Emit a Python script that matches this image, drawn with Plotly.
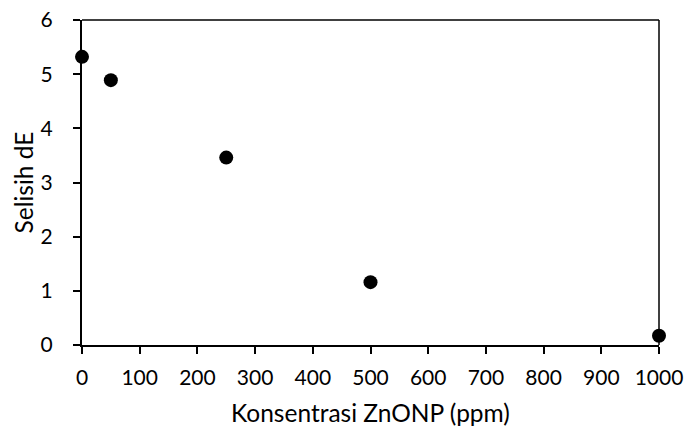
import plotly.graph_objects as go

konsentrasi = [0, 50, 250, 500, 1000]
selisih_dE = [5.32, 4.89, 3.46, 1.16, 0.17]
x_ticks = [0, 100, 200, 300, 400, 500, 600, 700, 800, 900, 1000]
y_ticks = [0, 1, 2, 3, 4, 5, 6]
x_title = "Konsentrasi ZnONP (ppm)"
y_title = "Selisih dE"

FONT = "Lato"
TICK_SIZE = 21
TITLE_SIZE = 24.5
W, H = 684, 428
ML, MR, MT, MB = 82, 25, 20, 83
PW, PH = W - ML - MR, H - MT - MB

fig = go.Figure()
fig.add_trace(go.Scatter(
    x=konsentrasi, y=selisih_dE, mode="markers",
    marker=dict(color="black", size=14),
    cliponaxis=False, showlegend=False,
))

axis_common = dict(
    showline=True, linecolor="black", linewidth=2,
    ticks="outside", ticklen=7, tickwidth=1.5, tickcolor="black",
    showgrid=False, zeroline=False, automargin=False,
    ticklabeloverflow="allow",
    tickfont=dict(family=FONT, size=TICK_SIZE, color="black"),
)
fig.update_xaxes(range=[0, 1000], tickvals=x_ticks, ticklabelstandoff=6, **axis_common)
fig.update_yaxes(range=[0, 6], tickvals=y_ticks, ticklabelstandoff=16, **axis_common)

# axis titles as annotations for exact placement
fig.add_annotation(text=x_title, xref="paper", yref="paper",
                   x=0.5, y=-(412 - (MT + PH)) / PH, xanchor="center", yanchor="middle",
                   showarrow=False, font=dict(family=FONT, size=TITLE_SIZE, color="black"))
fig.add_annotation(text=y_title, xref="paper", yref="paper", textangle=-90,
                   x=(23 - ML) / PW, y=0.5, xanchor="center", yanchor="middle",
                   showarrow=False, font=dict(family=FONT, size=TITLE_SIZE, color="black"))

# top and right border
fig.add_shape(type="line", xref="paper", yref="paper", x0=0, x1=1, y0=1, y1=1,
              line=dict(color="black", width=1.5))
fig.add_shape(type="line", xref="paper", yref="paper", x0=1, x1=1, y0=0, y1=1,
              line=dict(color="black", width=1.5))

fig.update_layout(
    width=W, height=H,
    margin=dict(l=ML, r=MR, t=MT, b=MB, autoexpand=False),
    paper_bgcolor="white", plot_bgcolor="white",
    font=dict(family=FONT, color="black"),
)
fig.write_html(
    "out.html",
    config={"displayModeBar": False},
    post_script="document.body.style.margin='0';document.body.style.overflow='hidden';",
)
